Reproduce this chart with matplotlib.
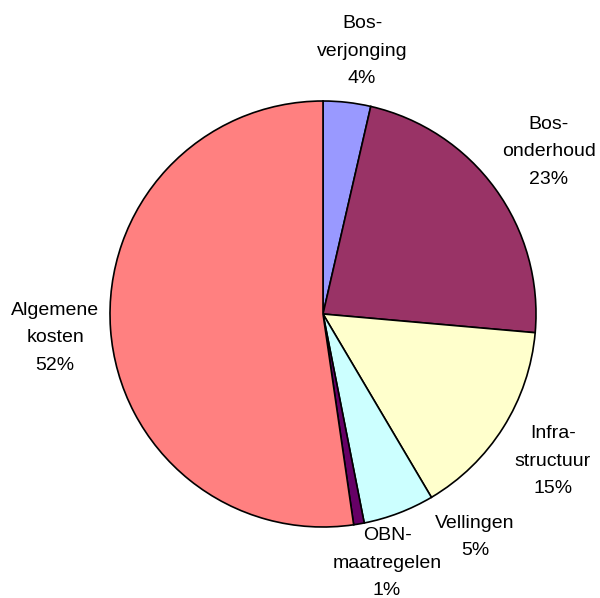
import matplotlib.pyplot as plt

# Kostenverdeling (aandeel in %)
categorieen = ['Bos-\nverjonging', 'Bos-\nonderhoud', 'Infra-\nstructuur',
               'Vellingen', 'OBN-\nmaatregelen', 'Algemene\nkosten']
aandelen = [3.6, 22.8, 15.1, 5.4, 0.8, 52.3]
kleuren = ['#9999FF', '#993366', '#FFFFCC', '#CCFFFF', '#660066', '#FF8080']

# plaats van de labels (pixels, y van boven)
label_posities = [(362, 51), (549, 152), (553, 461), (475, 537), (387, 563), (55, 338)]

B, H = 600, 598
fig = plt.figure(figsize=(B / 100, H / 100), dpi=100)
ax = fig.add_axes([0, 0, 1, 1])

ax.pie(aandelen, colors=kleuren, startangle=90, counterclock=False,
       center=(323, H - 314), radius=213, frame=True,
       wedgeprops=dict(edgecolor='black', linewidth=1.2))
ax.set_xlim(0, B)
ax.set_ylim(0, H)
ax.set_aspect('equal')
ax.axis('off')

for naam, waarde, (x, y) in zip(categorieen, aandelen, label_posities):
    ax.text(x, H - y, f'{naam}\n{round(waarde)}%', ha='center', va='center',
            multialignment='center', fontsize=14, family='Liberation Sans',
            linespacing=1.8)

fig.savefig('out.png', dpi=100)
